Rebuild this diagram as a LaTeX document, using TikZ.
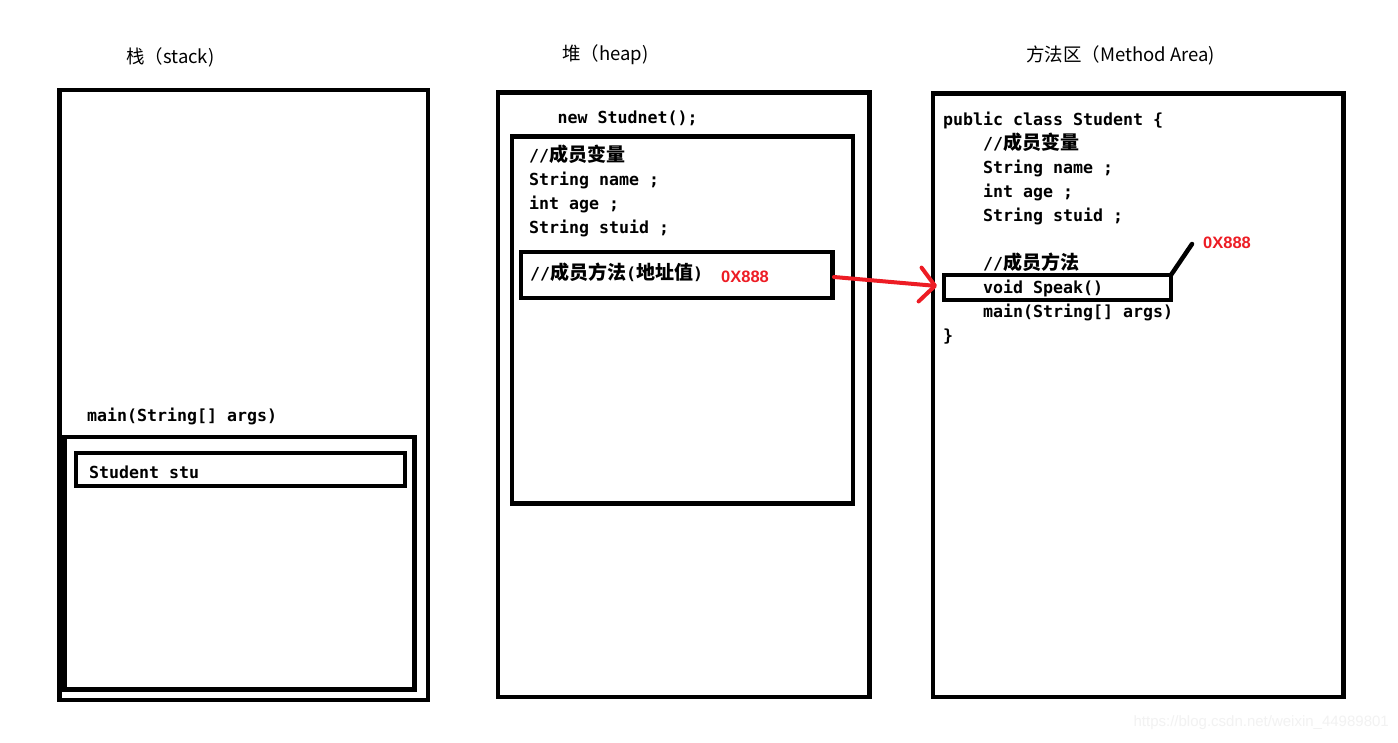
\documentclass[tikz,border=0pt]{standalone}
\usepackage{fontspec}
\setmainfont{Liberation Sans}
\setmonofont{DejaVu Sans Mono}
\newfontfamily\cjk{Noto Sans CJK SC}
\usetikzlibrary{arrows.meta}
\definecolor{redx}{HTML}{ED1C24}
\definecolor{wmgray}{HTML}{F2F2F2}
\newcommand\zh[1]{{\fontsize{19}{19}\selectfont\cjk #1}}
\tikzset{
  box/.style={draw=black, line width=4.5pt, inner sep=0pt, outer sep=0pt, fill=none},
  code/.style={anchor=west, inner sep=0pt, yshift=-2pt, font=\fontsize{16.6}{18}\selectfont\ttfamily\bfseries, text height=12pt, text depth=3pt},
  title/.style={anchor=west, inner sep=0pt, yshift=-2pt, font=\fontsize{18.5}{20}\selectfont\cjk},
  addr/.style={anchor=west, inner sep=0pt, text=redx, font=\fontsize{16.5}{18}\selectfont\bfseries},
  redarrow/.style={draw=redx, line width=4pt, line cap=round, -{Straight Barb[length=15pt,width=34pt,round]}},
}
\begin{document}
\begin{tikzpicture}[x=1pt,y=-1pt]
\useasboundingbox (0,0) rectangle (1398,742);
\fill[white] (0,0) rectangle (1398,742);

% titles
\node[title] (t1) at (126,55) {栈（stack)};
\node[title] (t2) at (562,53) {堆（heap)};
\node[title] (t3) at (1026,53) {方法区（Method Area)};

% stack
\node[box, minimum width=368.5pt, minimum height=610pt] (stackO) at (243.75,395) {};
\node[box, minimum width=350pt, minimum height=252.5pt] (stackI) at (239.5,563.25) {};
\node[box, minimum width=329pt, minimum height=33pt] (stu) at (240.5,469.5) {};
\node[code] (smain) at (87,415) {main(String[] args)};
\node[code] (sstu) at (89,472) {Student stu};

% heap
\node[box, minimum width=371.5pt, minimum height=604.5pt] (heapO) at (683.75,394.75) {};
\node[box, minimum width=341pt, minimum height=367pt] (heapI) at (682.5,320) {};
\node[box, minimum width=311.5pt, minimum height=46pt] (hm) at (676.75,275) {};
\node[code] (hnew) at (557.5,117) {new Studnet();};
\node[code] (h1) at (529,155) {//\zh{成员变量}};
\node[code] (h2) at (529,179) {String name ;};
\node[code] (h3) at (529,203) {int age ;};
\node[code] (h4) at (529,227) {String stuid ;};
\node[code] (h5) at (530,273) {//\zh{成员方法}(\zh{地址值})};
\node[addr] (haddr) at (721,277) {0X888};

% method area
\node[box, minimum width=410.5pt, minimum height=603.5pt] (methO) at (1138.25,395.25) {};
\node[box, minimum width=227pt, minimum height=25pt] (sp) at (1057.5,287.5) {};
\node[code] (m0) at (943,119) {public class Student \{};
\node[code] (m1) at (983,143) {//\zh{成员变量}};
\node[code] (m2) at (983,167) {String name ;};
\node[code] (m3) at (983,191) {int age ;};
\node[code] (m4) at (983,215) {String stuid ;};
\node[code] (m5) at (983,263) {//\zh{成员方法}};
\node[code] (m6) at (983,287) {void Speak()};
\node[code] (m7) at (983,311) {main(String[] args)};
\node[code] (m8) at (943,335) {\}};
\node[addr] (maddr) at (1203,243) {0X888};

% connectors
\coordinate (lineEnd) at (1192,244);
\draw[line width=4.5pt, line cap=round] (sp.north east) -- (lineEnd);
\coordinate (arrS) at (834,277);
\coordinate (arrE) at (937,286);
\draw[redarrow] (arrS) -- (arrE);

% watermark
\node[anchor=east, inner sep=0pt, text=wmgray, font=\fontsize{15}{16}\selectfont] (wm) at (1389,723) {https://blog.csdn.net/weixin\_44989801};
\end{tikzpicture}
\end{document}
